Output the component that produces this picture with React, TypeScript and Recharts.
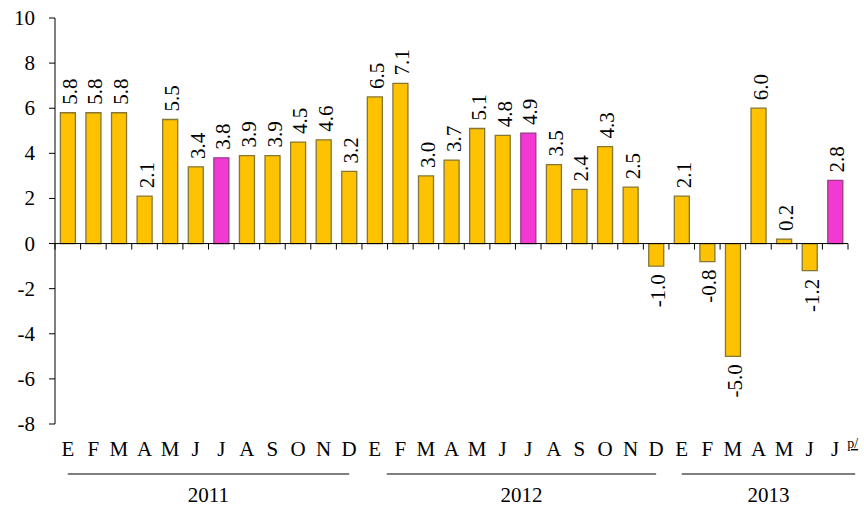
import { BarChart, Bar, XAxis, YAxis, Cell, LabelList, ReferenceLine } from 'recharts';

const months = [
  'E', 'F', 'M', 'A', 'M', 'J', 'J', 'A', 'S', 'O', 'N', 'D',
  'E', 'F', 'M', 'A', 'M', 'J', 'J', 'A', 'S', 'O', 'N', 'D',
  'E', 'F', 'M', 'A', 'M', 'J', 'J',
];
const values = [
  5.8, 5.8, 5.8, 2.1, 5.5, 3.4, 3.8, 3.9, 3.9, 4.5, 4.6, 3.2,
  6.5, 7.1, 3.0, 3.7, 5.1, 4.8, 4.9, 3.5, 2.4, 4.3, 2.5, -1.0,
  2.1, -0.8, -5.0, 6.0, 0.2, -1.2, 2.8,
];
const highlighted = [6, 18, 30];
const years = [
  { label: '2011', from: 0, to: 11 },
  { label: '2012', from: 12, to: 23 },
  { label: '2013', from: 24, to: 30 },
];
const yTicks = [-8, -6, -4, -2, 0, 2, 4, 6, 8, 10];

const data = values.map((v, i) => ({ key: `m${i}`, month: months[i], value: v }));

const W = 864;
const H = 509;
const MARGIN = { top: 18, right: 16, bottom: 0, left: 0 };
const X_H = 85;
const Y_W = 55;
const PLOT_TOP = MARGIN.top;
const PLOT_BOTTOM = H - MARGIN.bottom - X_H;
const BAND = (W - MARGIN.right - Y_W) / values.length;
const ZERO_Y = PLOT_TOP + ((PLOT_BOTTOM - PLOT_TOP) * 10) / 18;
const FONT = '"Liberation Serif", "Times New Roman", serif';

const GOLD = '#FFC200';
const GOLD_EDGE = '#857634';
const PINK = '#F23AD2';
const PINK_EDGE = '#9a3a86';

function MonthTick({ x, index }: any) {
  const last = index === values.length - 1;
  const year = years.find((y) => y.from === index);
  return (
    <g>
      <line x1={x - BAND / 2} x2={x - BAND / 2} y1={ZERO_Y} y2={ZERO_Y + 6} stroke="#000" />
      {last && <line x1={x + BAND / 2} x2={x + BAND / 2} y1={ZERO_Y} y2={ZERO_Y + 6} stroke="#000" />}
      <text x={x} y={456} textAnchor="middle" style={{ fontFamily: FONT }} fontSize={21} fill="#000">
        {months[index]}
      </text>
      {last && (
        <text x={x + 12} y={448} style={{ fontFamily: FONT }} fontSize={14} fill="#000" textDecoration="underline">
          p/
        </text>
      )}
      {year && (() => {
        const x1 = x + (year.from === 12 ? 12 : 0);
        const x2 = x + (year.to - year.from) * BAND + (year.to === values.length - 1 ? 20 : 0);
        return (
          <g>
            <line x1={x1} x2={x2} y1={474} y2={474} stroke="#000" strokeWidth={1.2} />
            <text x={(x1 + x2) / 2} y={502} textAnchor="middle" style={{ fontFamily: FONT }} fontSize={21} fill="#000">
              {year.label}
            </text>
          </g>
        );
      })()}
    </g>
  );
}

function YTick({ x, y, payload }: any) {
  return (
    <text x={x} y={y} dy={7} textAnchor="end" style={{ fontFamily: FONT }} fontSize={21} fill="#000">
      {payload.value}
    </text>
  );
}

function ValueLabel({ x, y, width, height, value }: any) {
  const top = Math.min(y, y + height);
  const bottom = Math.max(y, y + height);
  const cx = x + width / 2 + 2;
  const neg = value < 0;
  const ay = neg ? bottom + 8 : top - 8;
  return (
    <text
      x={cx}
      y={ay}
      transform={`rotate(-90 ${cx} ${ay})`}
      textAnchor={neg ? 'end' : 'start'}
      dominantBaseline="central"
      style={{ fontFamily: FONT }}
      fontSize={21}
      fill="#000"
    >
      {value.toFixed(1)}
    </text>
  );
}

export default function App() {
  return (
    <div style={{ position: 'absolute', left: 0, top: 0, width: W, height: H, background: '#fff', fontFamily: FONT }}>
      <BarChart width={W} height={H} data={data} margin={MARGIN} barCategoryGap="21%">
        <XAxis
          dataKey="key"
          interval={0}
          axisLine={false}
          tickLine={false}
          height={X_H}
          tick={<MonthTick />}
        />
        <YAxis
          width={Y_W}
          domain={[-8, 10]}
          ticks={yTicks}
          interval={0}
          axisLine={{ stroke: '#000' }}
          tickLine={{ stroke: '#000' }}
          tickSize={6}
          tickMargin={14}
          tick={<YTick />}
        />
        <ReferenceLine y={0} stroke="#000" />
        <Bar dataKey="value" isAnimationActive={false}>
          {data.map((d, i) => (
            <Cell
              key={d.key}
              fill={highlighted.includes(i) ? PINK : GOLD}
              stroke={highlighted.includes(i) ? PINK_EDGE : GOLD_EDGE}
              strokeWidth={1.3}
            />
          ))}
          <LabelList dataKey="value" content={<ValueLabel />} />
        </Bar>
      </BarChart>
    </div>
  );
}
